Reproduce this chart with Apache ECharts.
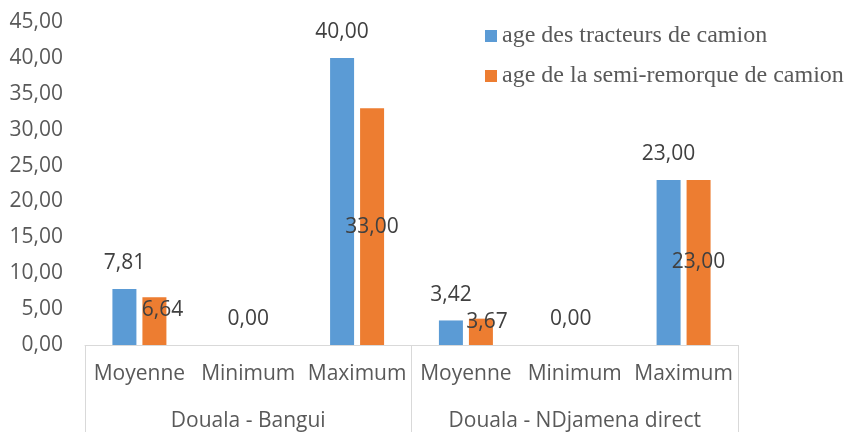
<!DOCTYPE html>
<html>
<head>
<meta charset="utf-8">
<script src="https://cdn.jsdelivr.net/npm/echarts/dist/echarts.min.js"></script>
<style>html,body{margin:0;padding:0;background:#fff;}#c{width:846px;height:432px;}</style>
</head>
<body>
<div id="c"></div>
<script>
var categories = ['Moyenne', 'Minimum', 'Maximum', 'Moyenne', 'Minimum', 'Maximum'];
var groups = ['Douala - Bangui', 'Douala - NDjamena direct'];
var seriesNames = ['age des tracteurs de camion', 'age de la semi-remorque de camion'];
var tractorValues = [7.81, 0, 40, 3.42, 0, 23];
var trailerValues = [6.64, 0, 33, 3.67, 0, 23];
var yTicks = [0, 5, 10, 15, 20, 25, 30, 35, 40, 45];

function fmt(v) { return Number(v).toFixed(2).replace('.', ','); }

var labelFont = { fontFamily: 'Open Sans', fontSize: 21, color: '#404040' };

var blueData = tractorValues.map(function (v, i) {
  var item = { value: v };
  if (v === 0) item.label = { offset: [i < 3 ? 15 : 11, 0] };
  return item;
});
var orangeData = trailerValues.map(function (v, i) {
  var item = { value: v };
  if (v === 0) item.label = { show: false };
  else if (i === 0) item.label = { offset: [8, -11] };
  else if (i === 3) item.label = { offset: [6, -10] };
  return item;
});

var chart = echarts.init(document.getElementById('c'), null, { renderer: 'canvas' });
chart.setOption({
  animation: false,
  backgroundColor: '#ffffff',
  grid: { left: 85, right: 108, top: 22, bottom: 87, containLabel: false },
  legend: {
    orient: 'vertical',
    left: 485,
    top: 24,
    padding: 0,
    itemWidth: 12,
    itemHeight: 12,
    itemGap: 16,
    icon: 'rect',
    textStyle: { fontFamily: 'Liberation Serif', fontSize: 24, color: '#595959', padding: [0, 0, 0, 0], lineHeight: 24 },
    data: seriesNames
  },
  xAxis: [
    {
      type: 'category',
      data: categories,
      axisLine: { show: true, lineStyle: { color: '#d9d9d9', width: 1 } },
      axisTick: { show: false },
      axisLabel: { fontFamily: 'Open Sans', fontSize: 21, color: '#595959', margin: 19, interval: 0 },
      splitLine: { show: false }
    },
    {
      type: 'category',
      data: groups,
      position: 'bottom',
      axisLine: { show: false },
      axisTick: { show: true, length: 90, lineStyle: { color: '#d9d9d9', width: 1 } },
      axisLabel: { fontFamily: 'Open Sans', fontSize: 21, color: '#595959', margin: 66, interval: 0 },
      splitLine: { show: false }
    }
  ],
  yAxis: {
    type: 'value',
    min: yTicks[0],
    max: yTicks[yTicks.length - 1],
    interval: yTicks[1] - yTicks[0],
    axisLine: { show: false },
    axisTick: { show: false },
    splitLine: { show: false },
    axisLabel: { fontFamily: 'Open Sans', fontSize: 21, color: '#595959', margin: 22, formatter: fmt }
  },
  series: [
    {
      name: seriesNames[0],
      type: 'bar',
      xAxisIndex: 0,
      data: blueData,
      barWidth: 24,
      barGap: '25%',
      itemStyle: { color: '#5b9bd5' },
      label: Object.assign({ show: true, position: 'top', distance: 15, formatter: function (p) { return fmt(p.value); } }, labelFont)
    },
    {
      name: seriesNames[1],
      type: 'bar',
      xAxisIndex: 0,
      data: orangeData,
      barWidth: 24,
      barGap: '25%',
      itemStyle: { color: '#ed7d31' },
      label: Object.assign({ show: true, position: 'inside', formatter: function (p) { return fmt(p.value); } }, labelFont)
    }
  ]
});
</script>
</body>
</html>
